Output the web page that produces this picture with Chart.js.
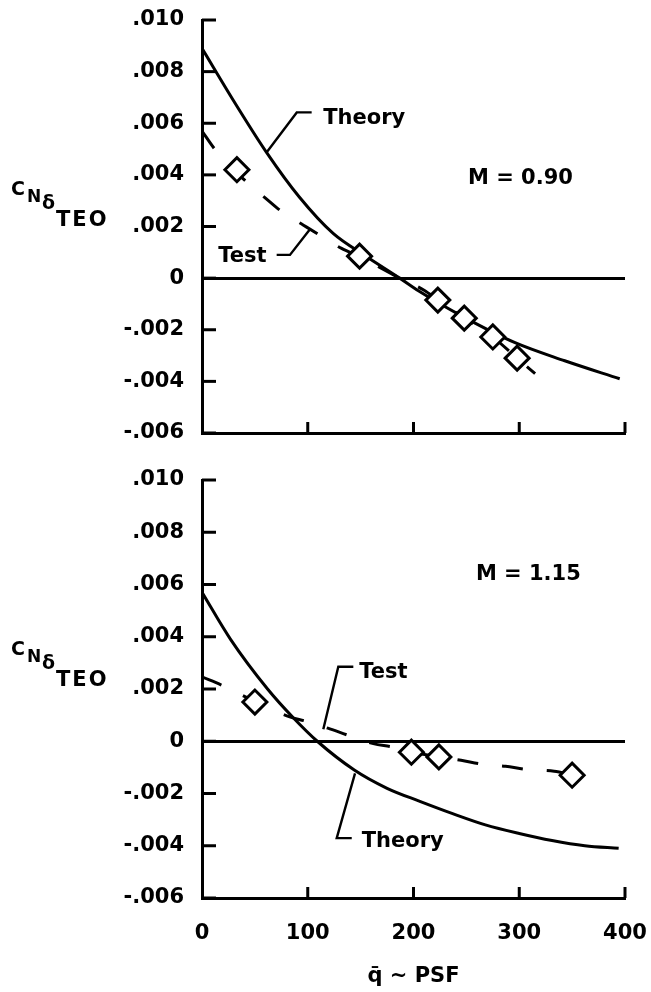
<!DOCTYPE html>
<html>
<head>
<meta charset="utf-8">
<script src="https://cdn.jsdelivr.net/npm/chart.js@4.4.1/dist/chart.umd.min.js"></script>
<style>
  html, body { margin: 0; padding: 0; background: #fff; }
  #wrap { position: relative; width: 651px; height: 992px; overflow: hidden; }
  #c1 { position: absolute; left: 0; top: 0; }
  #c2 { position: absolute; left: 0; top: 460px; }
</style>
</head>
<body>
<div id="wrap">
  <canvas id="c1" width="651" height="460"></canvas>
  <canvas id="c2" width="651" height="532"></canvas>
</div>
<script>
// ---------------- data ----------------
const xTicks = [0, 100, 200, 300, 400];
const yTicks = [-0.006, -0.004, -0.002, 0, 0.002, 0.004, 0.006, 0.008, 0.010];

// M = 0.90
const theory090Q  = [0, 30, 61, 92, 124, 155, 187, 205, 248, 296, 343, 395];
const theory090CN = [0.0089, 0.00686, 0.00487, 0.00314, 0.00173, 0.00085, 0, -0.0005, -0.00152, -0.0025, -0.0032, -0.0039];
const testLine090Q  = [0, 12, 35, 60, 76, 96, 111, 132, 149, 187, 210, 223, 248, 275, 298, 315];
const testLine090CN = [0.0057, 0.0050, 0.0040, 0.0031, 0.00256, 0.00205, 0.00167, 0.00115, 0.00083, 0.0, -0.00047, -0.00085, -0.00155, -0.00228, -0.0031, -0.0037];
const testPts090Q  = [33, 149, 223, 248, 275, 298];
const testPts090CN = [0.0042, 0.00085, -0.00085, -0.00155, -0.00228, -0.0031];

// M = 1.15
const theory115Q  = [0, 27, 62, 87, 109, 144, 175, 206, 237, 268, 300, 331, 362, 394];
const theory115CN = [0.0057, 0.0039, 0.0020, 0.00087, 0, -0.0011, -0.0018, -0.0023, -0.00277, -0.0032, -0.00353, -0.0038, -0.0040, -0.0041];
const testLine115Q  = [0, 19, 50, 83, 98, 119, 138, 162, 180, 198, 224, 245, 265, 287, 307, 333, 350];
const testLine115CN = [0.00246, 0.00214, 0.00152, 0.00093, 0.00077, 0.0005, 0.00023, -0.00009, -0.00022, -0.00041, -0.0006, -0.00073, -0.00088, -0.00096, -0.00108, -0.00115, -0.00128];
const testPts115Q  = [50, 198, 224, 350];
const testPts115CN = [0.0015, -0.00042, -0.0006, -0.0013];

// ---------------- styling / helpers ----------------
const FONT = '"DejaVu Sans", "Liberation Sans", sans-serif';
const pts = (qs, vs) => qs.map((q, i) => ({ x: q, y: vs[i] }));
const fmtY = v => {
  if (Math.abs(v) < 1e-9) return '0';
  return (v < 0 ? '-' : '') + Math.abs(v).toFixed(3).replace(/^0/, '');
};

const decor = {
  id: 'decor',
  afterDraw(chart, args, opts) {
    const { ctx, chartArea: ca, scales: { x, y } } = chart;
    ctx.save();
    ctx.strokeStyle = '#000';
    ctx.fillStyle = '#000';
    ctx.lineCap = 'butt';
    // inward tick marks
    ctx.lineWidth = 3;
    yTicks.forEach(v => {
      const py = y.getPixelForValue(v);
      ctx.beginPath(); ctx.moveTo(ca.left, py); ctx.lineTo(ca.left + 14, py); ctx.stroke();
    });
    xTicks.forEach(v => {
      if (v <= 0) return;
      const px = x.getPixelForValue(v);
      ctx.beginPath(); ctx.moveTo(px, ca.bottom); ctx.lineTo(px, ca.bottom - 11); ctx.stroke();
    });
    // leader lines
    ctx.lineWidth = 2.4;
    ctx.lineJoin = 'miter';
    (opts.leaders || []).forEach(L => {
      ctx.beginPath();
      L.forEach((p, i) => {
        const px = x.getPixelForValue(p[0]), py = y.getPixelForValue(p[1]);
        if (i) ctx.lineTo(px, py); else ctx.moveTo(px, py);
      });
      ctx.stroke();
    });
    // annotation texts
    ctx.textAlign = 'left';
    ctx.textBaseline = 'alphabetic';
    ctx.font = 'bold 21px ' + FONT;
    (opts.labels || []).forEach(l => {
      ctx.fillText(l.text, x.getPixelForValue(l.q), y.getPixelForValue(l.v));
    });
    // y-axis title  C N δ TEO (nested subscripts)
    const base = ca.top + 175;
    const parts = [
      { t: 'C',   x: 11, dy: 0,  s: 19 },
      { t: 'N',   x: 27, dy: 7,  s: 17 },
      { t: 'δ',   x: 42, dy: 14, s: 19 },
      { t: 'TEO', x: 56, dy: 31, s: 21, ls: 2 }
    ];
    parts.forEach(p => {
      ctx.font = 'bold ' + p.s + 'px ' + FONT;
      ctx.letterSpacing = (p.ls || 0) + 'px';
      ctx.fillText(p.t, p.x, base + p.dy);
    });
    ctx.letterSpacing = '0px';
    ctx.restore();
  }
};

function makeChart(canvasId, cfg) {
  const tickFont = { family: FONT, size: 21, weight: 'bold' };
  return new Chart(document.getElementById(canvasId), {
    type: 'line',
    data: {
      datasets: [
        {
          type: 'scatter',
          data: pts(cfg.ptsQ, cfg.ptsCN),
          showLine: false,
          pointStyle: 'rectRot',
          pointRadius: 12,
          pointBorderWidth: 3,
          pointBackgroundColor: '#fff',
          pointBorderColor: '#000',
          order: 0
        },
        {
          data: pts(cfg.testQ, cfg.testCN),
          borderColor: '#000',
          borderWidth: 3,
          borderDash: [21, 24],
          pointRadius: 0,
          fill: false,
          cubicInterpolationMode: 'monotone',
          order: 1
        },
        {
          data: pts(cfg.theoryQ, cfg.theoryCN),
          borderColor: '#000',
          borderWidth: 3,
          pointRadius: 0,
          fill: false,
          cubicInterpolationMode: 'monotone',
          order: 2
        }
      ]
    },
    options: {
      responsive: false,
      animation: false,
      events: [],
      layout: { padding: { top: 20, right: 26, left: 0, bottom: 0 } },
      plugins: {
        legend: { display: false },
        tooltip: { enabled: false },
        decor: { labels: cfg.labels, leaders: cfg.leaders }
      },
      scales: {
        x: {
          type: 'linear',
          min: 0, max: 400,
          afterBuildTicks: s => { s.ticks = xTicks.map(v => ({ value: v })); },
          ticks: {
            display: cfg.showX,
            font: tickFont,
            color: '#000',
            padding: 23,
            callback: v => String(v)
          },
          grid: { display: false, drawTicks: false },
          border: { display: true, color: '#000', width: 3 },
          title: {
            display: cfg.showX,
            text: 'q\u0304 ~ PSF',
            font: tickFont,
            color: '#000',
            padding: { top: 0, bottom: 3 }
          },
          afterFit: s => { s.height = cfg.xH; s.paddingLeft = 0; s.paddingRight = 0; }
        },
        y: {
          type: 'linear',
          min: -0.006, max: 0.010,
          afterBuildTicks: s => { s.ticks = yTicks.map(v => ({ value: v })); },
          ticks: {
            font: tickFont,
            color: '#000',
            padding: 18,
            callback: v => fmtY(v)
          },
          grid: {
            drawTicks: false,
            lineWidth: 3,
            color: c => (c.tick && Math.abs(c.tick.value) < 1e-9) ? '#000' : 'rgba(0,0,0,0)'
          },
          border: { display: true, color: '#000', width: 3 },
          afterFit: s => { s.width = 202; s.paddingTop = 0; s.paddingBottom = 0; }
        }
      }
    },
    plugins: [decor]
  });
}

makeChart('c1', {
  theoryQ: theory090Q, theoryCN: theory090CN,
  testQ: testLine090Q, testCN: testLine090CN,
  ptsQ: testPts090Q, ptsCN: testPts090CN,
  showX: false, xH: 27,
  labels: [
    { text: 'Theory', q: 114.7, v: 0.00597 },
    { text: 'Test', q: 15.4, v: 0.00064 },
    { text: 'M = 0.90', q: 251.5, v: 0.00363 }
  ],
  leaders: [
    [[103.7, 0.00642], [89.6, 0.00642], [61.2, 0.00488]],
    [[70.6, 0.0009], [83.2, 0.0009], [102.1, 0.00189]]
  ]
});

makeChart('c2', {
  theoryQ: theory115Q, theoryCN: theory115CN,
  testQ: testLine115Q, testCN: testLine115CN,
  ptsQ: testPts115Q, ptsCN: testPts115CN,
  showX: true, xH: 94,
  labels: [
    { text: 'Test', q: 148.7, v: 0.00241 },
    { text: 'Theory', q: 151, v: -0.00404 },
    { text: 'M = 1.15', q: 259, v: 0.00617 }
  ],
  leaders: [
    [[143.1, 0.00285], [128.9, 0.00285], [114.7, 0.00046]],
    [[141.6, -0.00371], [127.4, -0.00371], [144.7, -0.00123]]
  ]
});
</script>
</body>
</html>
